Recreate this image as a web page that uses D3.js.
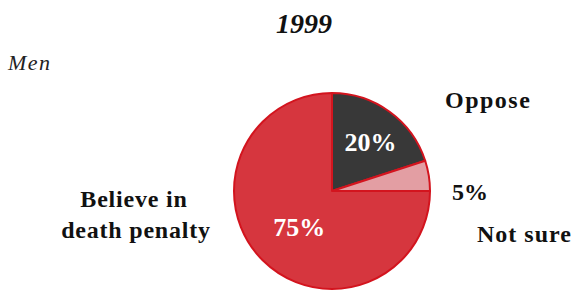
<!DOCTYPE html>
<html>
<head>
<meta charset="utf-8">
<script src="https://cdn.jsdelivr.net/npm/d3@7"></script>
<style>
  body { margin: 0; background: #fff; }
  svg { display: block; }
  text { font-family: "Liberation Serif", "Times New Roman", Times, serif; }
</style>
</head>
<body>
<svg id="chart"></svg>
<script>
// data
const categories = ["Oppose", "Not sure", "Believe in death penalty"];
const values = [20, 5, 75];
const valueLabels = ["20%", "5%", "75%"];
const colors = ["#383838", "#e39ea3", "#d6363e"];

const width = 575, height = 292;
const svg = d3.select("#chart").attr("width", width).attr("height", height);

const cx = 332, cy = 191, radius = 98;

// title + group label
svg.append("text")
  .attr("x", 304).attr("y", 33)
  .attr("text-anchor", "middle")
  .style("font-size", "28px").style("font-weight", "bold").style("font-style", "italic")
  .attr("fill", "#111")
  .text("1999");

svg.append("text")
  .attr("x", 8).attr("y", 70)
  .style("font-size", "22px").style("font-style", "italic")
  .style("letter-spacing", "1.5px")
  .attr("fill", "#222")
  .text("Men");

const pie = d3.pie().sort(null).value((d) => d.value);
const arc = d3.arc().innerRadius(0).outerRadius(radius);

const slices = pie(categories.map((c, i) => ({ key: c, value: values[i], label: valueLabels[i], color: colors[i] })));

const g = svg.append("g").attr("transform", `translate(${cx},${cy})`);

g.selectAll("path")
  .data(slices)
  .join("path")
  .attr("d", arc)
  .attr("fill", (d) => d.data.color)
  .attr("stroke", "#d3141e")
  .attr("stroke-width", 2)
  .attr("stroke-linejoin", "round");

// percent labels inside the two big slices
const inner = { "Oppose": 62, "Believe in death penalty": 49 };
slices.filter((d) => d.data.key in inner).forEach((d) => {
  const r = inner[d.data.key];
  const [x, y] = d3.arc().innerRadius(r).outerRadius(r).centroid(d);
  g.append("text")
    .attr("x", x + 2).attr("y", y + 10)
    .attr("text-anchor", "middle")
    .style("font-size", "26px").style("font-weight", "bold")
    .attr("fill", "#fff")
    .text(d.data.label);
});

// outside labels
const lab = svg.append("g")
  .style("font-size", "24px").style("font-weight", "bold")
  .attr("fill", "#111");

lab.append("text")
  .attr("x", 445).attr("y", 108)
  .style("letter-spacing", "1.5px")
  .text(categories[0]);

lab.append("text")
  .attr("x", 452).attr("y", 200)
  .text(valueLabels[1]);

lab.append("text")
  .attr("x", 477).attr("y", 242)
  .style("letter-spacing", "1px")
  .text(categories[1]);

const believe = lab.append("text")
  .attr("text-anchor", "middle")
  .style("letter-spacing", "0.8px");
believe.append("tspan").attr("x", 134).attr("y", 207).text("Believe in");
believe.append("tspan").attr("x", 136).attr("y", 238).text("death penalty");
</script>
</body>
</html>
